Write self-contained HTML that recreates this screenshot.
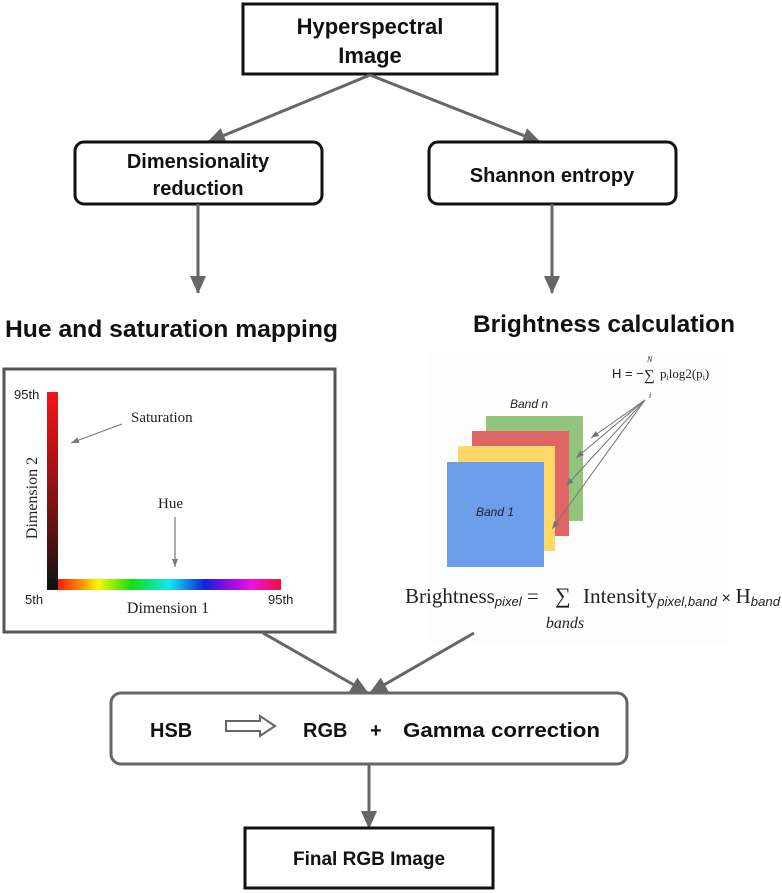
<!DOCTYPE html>
<html><head><meta charset="utf-8"><style>
html,body{margin:0;padding:0;background:#fff;}
svg{display:block;}
.b{font-family:"Liberation Sans",Arial,sans-serif;font-weight:bold;fill:#111;}
.s{font-family:"Liberation Serif","Times New Roman",serif;fill:#222;}
</style></head><body>
<svg width="782" height="893" viewBox="0 0 782 893" xmlns="http://www.w3.org/2000/svg">
<defs>
<marker id="ah" markerWidth="18" markerHeight="16" refX="17" refY="8" orient="auto" markerUnits="userSpaceOnUse" viewBox="0 0 18 16"><path d="M0,0 L18,8 L0,16 z" fill="#666"/></marker>
<marker id="sm" markerWidth="8" markerHeight="6" refX="8" refY="3" orient="auto" markerUnits="userSpaceOnUse"><path d="M0,0 L8,3 L0,6 z" fill="#777"/></marker>
<linearGradient id="vg" x1="0" y1="0" x2="0" y2="1"><stop offset="0" stop-color="#f51515"/><stop offset="0.5" stop-color="#8a1414"/><stop offset="1" stop-color="#151111"/></linearGradient>
<linearGradient id="hg" x1="0" y1="0" x2="1" y2="0">
<stop offset="0" stop-color="#ff1a00"/><stop offset="0.1" stop-color="#ff8a00"/><stop offset="0.18" stop-color="#f8f800"/><stop offset="0.33" stop-color="#10e010"/><stop offset="0.5" stop-color="#10e8f0"/><stop offset="0.66" stop-color="#1020e0"/><stop offset="0.75" stop-color="#8010e0"/><stop offset="0.87" stop-color="#f010e0"/><stop offset="1" stop-color="#f0103a"/></linearGradient>
</defs>

<rect x="243" y="4" width="254" height="70" fill="#fff" stroke="#111" stroke-width="3"/>
<text class="b" x="370" y="34" font-size="22" text-anchor="middle">Hyperspectral</text>
<text class="b" x="370" y="63" font-size="22" text-anchor="middle">Image</text>

<line x1="370" y1="75" x2="208" y2="142" stroke="#666" stroke-width="3" marker-end="url(#ah)"/>
<line x1="370" y1="75" x2="540" y2="142" stroke="#666" stroke-width="3" marker-end="url(#ah)"/>

<rect x="75" y="142" width="247" height="62" rx="9" fill="#fff" stroke="#111" stroke-width="3"/>
<text class="b" x="198" y="168" font-size="20" text-anchor="middle">Dimensionality</text>
<text class="b" x="198" y="195" font-size="20" text-anchor="middle">reduction</text>
<rect x="429" y="142" width="247" height="62" rx="9" fill="#fff" stroke="#111" stroke-width="3"/>
<text class="b" x="552" y="182" font-size="20" text-anchor="middle">Shannon entropy</text>

<line x1="198" y1="204" x2="198" y2="293" stroke="#666" stroke-width="3" marker-end="url(#ah)"/>
<line x1="552" y1="204" x2="552" y2="293" stroke="#666" stroke-width="3" marker-end="url(#ah)"/>

<text class="b" x="5" y="337" font-size="24" textLength="333" lengthAdjust="spacingAndGlyphs">Hue and saturation mapping</text>
<text class="b" x="473" y="332" font-size="24" textLength="262" lengthAdjust="spacingAndGlyphs">Brightness calculation</text>

<rect x="4" y="369" width="331" height="263" fill="#fff" stroke="#555" stroke-width="3"/>
<rect x="47" y="392" width="11" height="198" fill="url(#vg)"/>
<rect x="58" y="579" width="223" height="11" fill="url(#hg)"/>
<rect x="47" y="579" width="11" height="11" fill="#111"/>
<text x="14" y="399" font-family="Liberation Sans,sans-serif" font-size="13" fill="#222">95th</text>
<text class="s" x="131" y="422" font-size="15">Saturation</text>
<line x1="122" y1="424" x2="71" y2="443" stroke="#777" stroke-width="1.2" marker-end="url(#sm)"/>
<text class="s" x="158" y="508" font-size="15">Hue</text>
<line x1="175" y1="517" x2="175" y2="567" stroke="#777" stroke-width="1.2" marker-end="url(#sm)"/>
<text x="25" y="604" font-family="Liberation Sans,sans-serif" font-size="13" fill="#222">5th</text>
<text x="268" y="604" font-family="Liberation Sans,sans-serif" font-size="13" fill="#222">95th</text>
<text class="s" x="168" y="613" font-size="16" text-anchor="middle">Dimension 1</text>
<text class="s" x="0" y="0" font-size="16" text-anchor="middle" transform="translate(37,498) rotate(-90)">Dimension 2</text>

<rect x="430" y="352" width="298" height="290" fill="#fdfdfd"/>
<rect x="486" y="416" width="97" height="105" fill="#93c47d"/>
<rect x="472" y="431" width="97" height="105" fill="#e06666"/>
<rect x="458" y="446" width="97" height="105" fill="#ffd966"/>
<rect x="447" y="462" width="97" height="105" fill="#6d9eeb"/>
<text x="510" y="408" font-family="Liberation Sans,sans-serif" font-style="italic" font-size="12" fill="#222">Band n</text>
<text x="476" y="516" font-family="Liberation Sans,sans-serif" font-style="italic" font-size="12" fill="#222">Band 1</text>
<text x="612" y="378" font-family="Liberation Sans,sans-serif" font-size="13" fill="#222">H = −</text>
<text class="s" x="644" y="380" font-size="15">∑</text>
<text class="s" x="647" y="362" font-size="8" font-style="italic">N</text>
<text class="s" x="649" y="398" font-size="8" font-style="italic">i</text>
<text class="s" x="660" y="378" font-size="13">p<tspan font-size="8" dy="2">i</tspan><tspan dy="-2">log2(p</tspan><tspan font-size="8" dy="2">i</tspan><tspan dy="-2">)</tspan></text>
<g stroke="#777" stroke-width="1" fill="none">
<line x1="645" y1="400" x2="591" y2="438" marker-end="url(#sm)"/>
<line x1="645" y1="400" x2="576" y2="458" marker-end="url(#sm)"/>
<line x1="645" y1="400" x2="566" y2="486" marker-end="url(#sm)"/>
<line x1="645" y1="400" x2="552" y2="529" marker-end="url(#sm)"/>
</g>
<text class="s" x="405" y="603" font-size="21">Brightness<tspan font-family="Liberation Sans,sans-serif" font-style="italic" font-size="13" dy="3">pixel</tspan><tspan dy="-3"> = </tspan></text>
<text class="s" x="555" y="603" font-size="22">∑</text>
<text class="s" x="565" y="628" font-size="16" font-style="italic" text-anchor="middle">bands</text>
<text class="s" x="583" y="603" font-size="21" textLength="197" lengthAdjust="spacingAndGlyphs">Intensity<tspan font-family="Liberation Sans,sans-serif" font-style="italic" font-size="13" dy="3">pixel,band</tspan><tspan dy="-3" font-family="Liberation Sans,sans-serif" font-size="16"> × </tspan><tspan>H</tspan><tspan font-family="Liberation Sans,sans-serif" font-style="italic" font-size="13" dy="3">band</tspan></text>

<line x1="263" y1="633" x2="368" y2="693" stroke="#666" stroke-width="3" marker-end="url(#ah)"/>
<line x1="474" y1="633" x2="370" y2="693" stroke="#666" stroke-width="3" marker-end="url(#ah)"/>

<rect x="111" y="693" width="516" height="71" rx="10" fill="#fff" stroke="#666" stroke-width="3"/>
<text class="b" x="150" y="737" font-size="20">HSB</text>
<path d="M226,721 H260 V716 L275,726 L260,736 V731 H226 Z" fill="#fff" stroke="#666" stroke-width="2"/>
<text class="b" x="303" y="737" font-size="20">RGB</text>
<text class="b" x="370" y="737" font-size="20">+</text>
<text class="b" x="403" y="737" font-size="20" textLength="197" lengthAdjust="spacingAndGlyphs">Gamma correction</text>

<line x1="369" y1="764" x2="369" y2="828" stroke="#666" stroke-width="3" marker-end="url(#ah)"/>
<rect x="245" y="828" width="248" height="60" fill="#fff" stroke="#111" stroke-width="3"/>
<text class="b" x="369" y="865" font-size="19" text-anchor="middle">Final RGB Image</text>
</svg>
</body></html>
